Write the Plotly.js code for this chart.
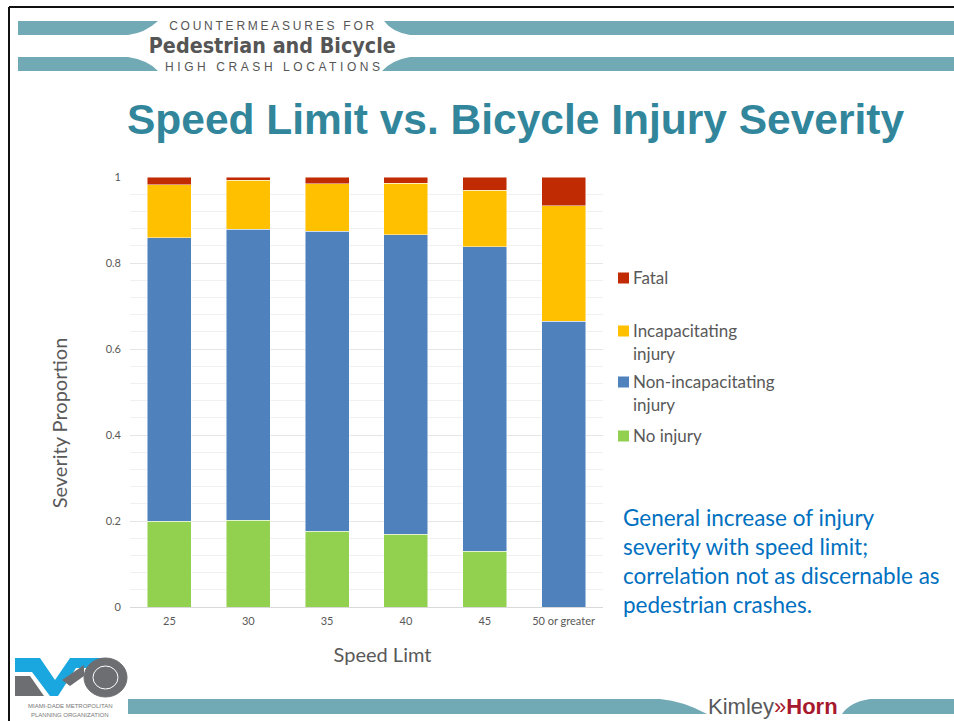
<!DOCTYPE html>
<html>
<head>
<meta charset="utf-8">
<script src="https://cdn.plot.ly/plotly-3.0.1.min.js"></script>
<style>
  html, body { margin: 0; padding: 0; background: #ffffff; }
  #chart { width: 954px; height: 721px; }
</style>
</head>
<body>
<div id="chart"></div>
<script>
// ---------------- DATA ----------------
const speedLimits = ['25', '30', '35', '40', '45', '50 or greater'];
const noInjury    = [0.199, 0.202, 0.176, 0.169, 0.130, 0.000];
const nonIncap    = [0.660, 0.677, 0.698, 0.697, 0.708, 0.664];
const incap       = [0.123, 0.114, 0.110, 0.120, 0.131, 0.269];
const fatal       = [0.018, 0.007, 0.016, 0.014, 0.031, 0.067];
const seriesNames = ['No injury', 'Non-incapacitating injury', 'Incapacitating injury', 'Fatal'];
const legendLines = [['No injury'], ['Non-incapacitating', 'injury'], ['Incapacitating', 'injury'], ['Fatal']];
const yTickVals   = [0, 0.2, 0.4, 0.6, 0.8, 1];
const yTickText   = ['0', '0.2', '0.4', '0.6', '0.8', '1'];
const chartTitle  = 'Speed Limit vs. Bicycle Injury Severity';
const xTitle      = 'Speed Limt';
const yTitle      = 'Severity Proportion';
const noteLines   = ['General increase of injury', 'severity with speed limit;', 'correlation not as discernable as', 'pedestrian crashes.'];
const headerTop   = 'COUNTERMEASURES FOR';
const headerMain  = 'Pedestrian and Bicycle';
const headerBot   = 'HIGH CRASH LOCATIONS';

// ---------------- STYLE ----------------
const colors = ['#92D050', '#4F81BD', '#FFC000', '#C02B03'];
const FONT = 'Lato, "Open Sans", sans-serif';
const GRAY = '#595959';
const TEAL = '#71A9B4';

// plot-area pixel box
const W = 954, H = 721;
const L = 130, R = 603, T = 177, B = 607;
const X = p => (p - L) / (R - L);
const Y = p => (B - p) / (B - T);

const seriesData = [noInjury, nonIncap, incap, fatal];
const traces = seriesData.map((vals, i) => ({
  type: 'bar',
  name: seriesNames[i],
  x: speedLimits,
  y: vals,
  marker: { color: colors[i], line: { color: 'rgba(255,255,255,0.6)', width: 0.8 } },
  hoverinfo: 'x+y+name'
}));

// ---------- decoration shapes ----------
function path(pts) {
  return pts.map((p, i) => (i === 0 ? 'M' : 'L') + X(p[0]).toFixed(5) + ',' + Y(p[1]).toFixed(5)).join(' ') + ' Z';
}
function qpath(cmds) {
  return cmds.map(c => {
    if (c[0] === 'Q') return 'Q' + X(c[1]).toFixed(5) + ',' + Y(c[2]).toFixed(5) + ' ' + X(c[3]).toFixed(5) + ',' + Y(c[4]).toFixed(5);
    return c[0] + X(c[1]).toFixed(5) + ',' + Y(c[2]).toFixed(5);
  }).join(' ') + ' Z';
}
function pshape(d, fill) {
  return { type: 'path', xref: 'paper', yref: 'paper', path: d, fillcolor: fill, line: { width: 0 }, layer: 'above' };
}

const shapes = [];
// slide frame lines
shapes.push({ type: 'line', xref: 'paper', yref: 'paper', x0: X(9), x1: X(954), y0: Y(7), y1: Y(7), line: { color: '#111', width: 2 } });
shapes.push({ type: 'line', xref: 'paper', yref: 'paper', x0: X(9), x1: X(9), y0: Y(7), y1: Y(721), line: { color: '#111', width: 2 } });
// header bands
shapes.push(pshape(qpath([['M', 18, 21], ['L', 158, 21], ['Q', 145, 33, 128, 35], ['L', 18, 35]]), TEAL));
shapes.push(pshape(qpath([['M', 384, 21], ['L', 954, 21], ['L', 954, 35], ['L', 410, 35], ['Q', 392, 32, 384, 21]]), TEAL));
shapes.push(pshape(qpath([['M', 18, 57], ['L', 128, 57], ['Q', 148, 60, 158, 71], ['L', 18, 71]]), TEAL));
shapes.push(pshape(qpath([['M', 410, 57], ['L', 954, 57], ['L', 954, 71], ['L', 382, 71], ['Q', 392, 60, 410, 57]]), TEAL));
// footer bands
shapes.push(pshape(qpath([['M', 128, 699], ['L', 660, 699], ['Q', 683, 701, 707, 714], ['L', 128, 714]]), TEAL));
shapes.push(pshape(qpath([['M', 870, 699], ['L', 954, 699], ['L', 954, 714], ['L', 842, 714], ['Q', 850, 702, 870, 699]]), TEAL));
// MPO logo (approximate)
shapes.push(pshape(path([[15, 658], [40, 658], [55, 680], [70, 658], [104, 658], [96, 668], [76, 668], [58, 696], [50, 696], [32, 672], [15, 672]]), '#1AA7DF'));
shapes.push(pshape(path([[15, 676], [30, 676], [44, 696], [15, 696]]), '#6D6E71'));
shapes.push({ type: 'circle', xref: 'paper', yref: 'paper', x0: X(84), x1: X(127), y0: Y(658), y1: Y(697), fillcolor: '#6D6E71', line: { color: '#6D6E71', width: 1 }, layer: 'above' });
shapes.push({ type: 'circle', xref: 'paper', yref: 'paper', x0: X(93), x1: X(118), y0: Y(666), y1: Y(689), fillcolor: 'rgba(0,0,0,0)', line: { color: '#ffffff', width: 1 }, layer: 'above' });
shapes.push(pshape(path([[62, 680], [84, 665], [84, 676], [70, 686]]), '#6D6E71'));

// ---------- legend (custom) ----------
const annotations = [];
const legendOrder = [3, 2, 1, 0];
const legendSquareY = [278, 331, 382, 436];
legendOrder.forEach((si, k) => {
  const cy = legendSquareY[k];
  shapes.push({ type: 'rect', xref: 'paper', yref: 'paper', x0: X(618), x1: X(629), y0: Y(cy - 5.5), y1: Y(cy + 5.5), fillcolor: colors[si], line: { width: 0 } });
  legendLines[si].forEach((txt, j) => {
    annotations.push({ xref: 'paper', yref: 'paper', x: X(631), y: Y(cy - 1 + j * 23), xanchor: 'left', yanchor: 'middle', showarrow: false, text: txt, font: { family: FONT, size: 17, color: GRAY } });
  });
});

// title
annotations.push({ xref: 'paper', yref: 'paper', x: X(516), y: Y(119), xanchor: 'center', yanchor: 'middle', showarrow: false, text: '<b>' + chartTitle + '</b>', font: { family: '"Liberation Sans", Arial, sans-serif', size: 42.5, color: '#31869B' } });
// note text
noteLines.forEach((t, i) => {
  annotations.push({ xref: 'paper', yref: 'paper', x: X(621), y: Y(517 + i * 29), xanchor: 'left', yanchor: 'middle', showarrow: false, text: t, font: { family: FONT, size: 22.5, color: '#0070C0' } });
});
// header logo texts
annotations.push({ xref: 'paper', yref: 'paper', x: X(272), y: Y(25.5), xanchor: 'center', yanchor: 'middle', showarrow: false, text: headerTop, font: { family: '"Liberation Sans", Arial, sans-serif', size: 12, color: '#555555' } });
annotations.push({ xref: 'paper', yref: 'paper', x: X(272), y: Y(45.5), xanchor: 'center', yanchor: 'middle', showarrow: false, text: '<b>' + headerMain + '</b>', font: { family: '"DejaVu Sans Condensed", "Liberation Sans", sans-serif', size: 22, color: '#555555' } });
annotations.push({ xref: 'paper', yref: 'paper', x: X(272), y: Y(66.5), xanchor: 'center', yanchor: 'middle', showarrow: false, text: headerBot, font: { family: '"Liberation Sans", Arial, sans-serif', size: 12, color: '#555555' } });
// footer texts
annotations.push({ xref: 'paper', yref: 'paper', x: X(773), y: Y(706), xanchor: 'center', yanchor: 'middle', showarrow: false, text: '<span style="color:#58595B">Kimley</span><span style="color:#A6192E">\u00BB<b>Horn</b></span>', font: { family: '"Liberation Sans Narrow", "Liberation Sans", sans-serif', size: 22, color: '#58595B' } });
annotations.push({ xref: 'paper', yref: 'paper', x: X(70), y: Y(706), xanchor: 'center', yanchor: 'middle', showarrow: false, text: 'MIAMI-DADE METROPOLITAN', font: { family: '"Liberation Sans", sans-serif', size: 6, color: '#777777' } });
annotations.push({ xref: 'paper', yref: 'paper', x: X(70), y: Y(715), xanchor: 'center', yanchor: 'middle', showarrow: false, text: 'PLANNING ORGANIZATION', font: { family: '"Liberation Sans", sans-serif', size: 6, color: '#777777' } });

const layout = {
  width: W, height: H, autosize: false,
  margin: { l: L, r: W - R, t: T, b: H - B, pad: 0 },
  paper_bgcolor: '#ffffff', plot_bgcolor: '#ffffff',
  barmode: 'stack', bargap: 0.44,
  showlegend: false,
  font: { family: FONT, color: GRAY },
  xaxis: {
    type: 'category',
    showline: true, linecolor: '#D9D9D9', linewidth: 1,
    ticks: '', showgrid: false, zeroline: false,
    tickfont: { family: FONT, size: 11, color: GRAY },
    ticklabelstandoff: 4,
    title: { text: xTitle, font: { family: FONT, size: 20, color: GRAY }, standoff: 21 }
  },
  yaxis: {
    range: [0, 1], tickvals: yTickVals, ticktext: yTickText,
    showgrid: true, gridcolor: '#E6E6E6', gridwidth: 1,
    minor: { dtick: 0.04, showgrid: true, gridcolor: '#F0F0F0', gridwidth: 1 },
    zeroline: false, showline: false, ticks: '',
    tickfont: { family: FONT, size: 11, color: GRAY },
    ticklabelstandoff: 8,
    title: { text: yTitle, font: { family: FONT, size: 20, color: GRAY }, standoff: 32 }
  },
  shapes: shapes,
  annotations: annotations
};

Plotly.newPlot('chart', traces, layout, { displayModeBar: false, staticPlot: true }).then(() => {
  // fit header logo lines to their widths in the reference
  const fits = {};
  fits[headerTop] = [205, 'spacing'];
  fits[headerMain] = [247, 'spacingAndGlyphs'];
  fits[headerBot] = [215, 'spacing'];
  document.querySelectorAll('.annotation-text').forEach(el => {
    const f = fits[el.textContent];
    if (f) { el.setAttribute('textLength', f[0]); el.setAttribute('lengthAdjust', f[1]); }
  });
  // Excel placed the axis titles off-centre from the plot area
  const yt = document.querySelector('.ytitle');
  if (yt) {
    const x = parseFloat(yt.getAttribute('x')), y = parseFloat(yt.getAttribute('y')) + 31;
    yt.setAttribute('y', y);
    yt.setAttribute('transform', 'rotate(-90,' + x + ',' + y + ')');
  }
  const xt = document.querySelector('.xtitle');
  if (xt) xt.setAttribute('x', parseFloat(xt.getAttribute('x')) + 16);
});
</script>
</body>
</html>
